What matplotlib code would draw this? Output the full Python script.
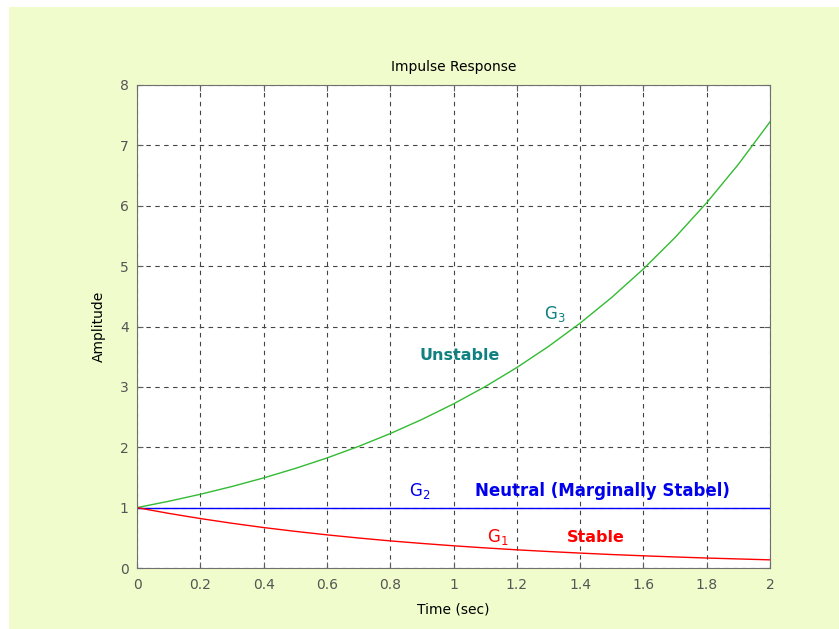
import matplotlib
matplotlib.use("Agg")
import matplotlib.pyplot as plt
from matplotlib.patches import Rectangle

plt.rcParams['font.family'] = ['DejaVu Sans']

time_s = [0.0, 0.1, 0.2, 0.3, 0.4, 0.5, 0.6, 0.7, 0.8, 0.9, 1.0,
          1.1, 1.2, 1.3, 1.4, 1.5, 1.6, 1.7, 1.8, 1.9, 2.0]
g1_stable = [1.000, 0.905, 0.819, 0.741, 0.670, 0.607, 0.549, 0.497, 0.449, 0.407, 0.368,
             0.333, 0.301, 0.273, 0.247, 0.223, 0.202, 0.183, 0.165, 0.150, 0.135]
g2_neutral = [1.0] * 21
g3_unstable = [1.000, 1.105, 1.221, 1.350, 1.492, 1.649, 1.822, 2.014, 2.226, 2.460, 2.718,
               3.004, 3.320, 3.669, 4.055, 4.482, 4.953, 5.474, 6.050, 6.686, 7.389]
x_ticks = [0, 0.2, 0.4, 0.6, 0.8, 1, 1.2, 1.4, 1.6, 1.8, 2]
x_labels = ['0', '0.2', '0.4', '0.6', '0.8', '1', '1.2', '1.4', '1.6', '1.8', '2']
y_ticks = [0, 1, 2, 3, 4, 5, 6, 7, 8]

fig = plt.figure(figsize=(8.39, 6.29), dpi=100, facecolor='white')
fig.patches.append(Rectangle((9 / 839, 0), 1 - 9 / 839, 1 - 7 / 629,
                             transform=fig.transFigure, facecolor='#f0fccc',
                             edgecolor='none', zorder=-10))

ax = fig.add_axes([137 / 839, 61 / 629, 633 / 839, 483 / 629])
ax.set_facecolor('white')

ax.plot(time_s, g3_unstable, color='#33bb33', lw=1.0)
ax.plot(time_s, g2_neutral, color='#0000ff', lw=1.0)
ax.plot(time_s, g1_stable, color='#ff0000', lw=1.0)

ax.set_xlim(0, 2)
ax.set_ylim(0, 8)
ax.set_xticks(x_ticks)
ax.set_xticklabels(x_labels)
ax.set_yticks(y_ticks)
ax.grid(True, color='#444444', linestyle=(0, (4, 4)), linewidth=0.8)
for s in ax.spines.values():
    s.set_color('#707070')
ax.tick_params(direction='in', colors='#606060', labelcolor='#555555',
               labelsize=10, length=4, top=True, right=True)
ax.tick_params(axis='x', pad=7)
ax.tick_params(axis='y', pad=6)

ax.set_title('Impulse Response', fontsize=10, pad=10)
ax.set_xlabel('Time (sec)', fontsize=10, labelpad=8)
ax.set_ylabel('Amplitude', fontsize=10, labelpad=10)

ax.text(1.02, 3.52, 'Unstable', color='#108080', fontsize=11.5, fontweight='bold',
        ha='center', va='center')
ax.text(1.285, 4.2, r'G$_3$', color='#108080', fontsize=12, ha='left', va='center')
ax.text(1.47, 1.28, 'Neutral (Marginally Stabel)', color='#0000ee', fontsize=12,
        fontweight='bold', ha='center', va='center')
ax.text(0.86, 1.28, r'G$_2$', color='#0000ee', fontsize=12, ha='left', va='center')
ax.text(1.105, 0.52, r'G$_1$', color='#ff0000', fontsize=12, ha='left', va='center')
ax.text(1.45, 0.50, 'Stable', color='#ff0000', fontsize=11.5, fontweight='bold',
        ha='center', va='center')

fig.savefig('out.png', dpi=100, facecolor=fig.get_facecolor())
